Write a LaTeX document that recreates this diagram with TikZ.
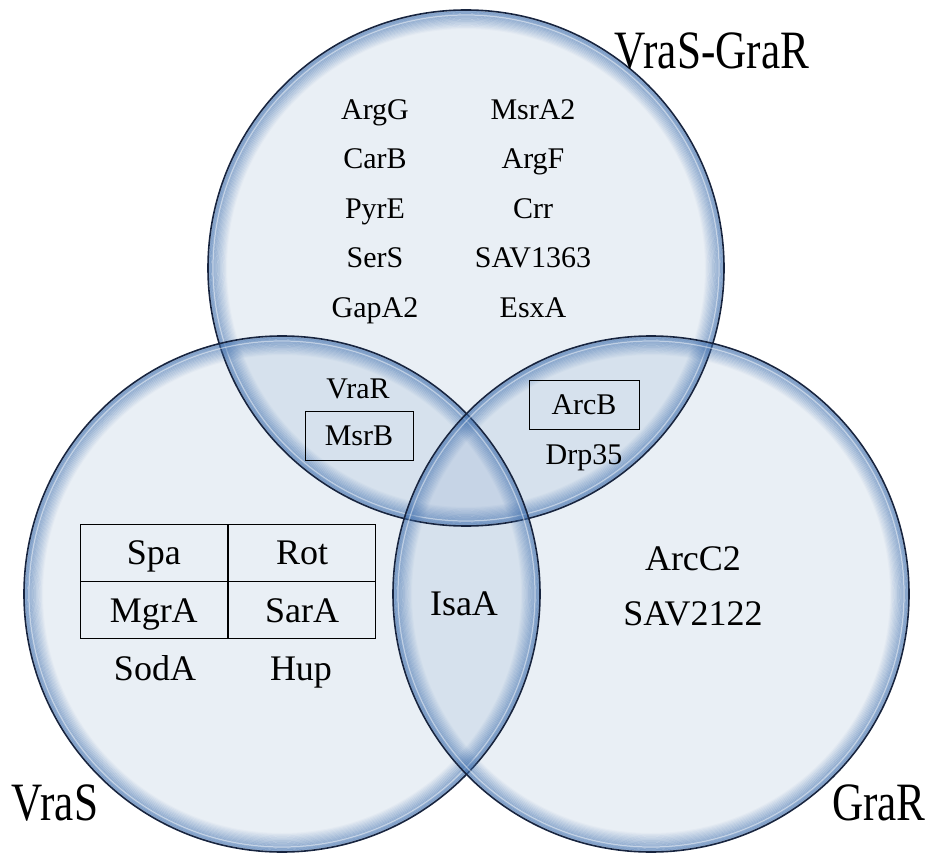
\documentclass[tikz,border=0pt]{standalone}
\usepackage{fontspec}
\setmainfont{Liberation Serif}
\newfontfamily\genefont{Liberation Serif}
\newfontfamily\setlabelfont[FakeStretch=0.8]{Liberation Serif}
\usetikzlibrary{positioning}
\definecolor{setfill}{HTML}{5B84B8}
\definecolor{setglow}{HTML}{3F6FAE}
\definecolor{setrim}{HTML}{17243F}
\tikzset{
  venn/.style={circle,minimum size=516pt,inner sep=0,fill=setfill,fill opacity=0.13},
  rim/.style={draw=setrim,line width=1.6pt},
  gene/.style={font=\genefont\fontsize{30}{30}\selectfont,inner sep=0,text height=20pt,text depth=0pt},
  biggene/.style={font=\genefont\fontsize{36}{36}\selectfont,inner sep=0,text height=24pt,text depth=0pt},
  genebox/.style={gene,draw,line width=0.9pt,minimum width=108pt,minimum height=49pt},
  cell/.style={biggene,draw,line width=0.9pt,minimum width=147.5pt,minimum height=57pt},
  setname/.style={font=\setlabelfont\fontsize{54}{54}\selectfont,inner sep=0,text height=36pt,text depth=0pt},
}
\begin{document}
\begin{tikzpicture}[x=1pt,y=-1pt]
  \useasboundingbox (0,0) rectangle (932,853);
  \fill[white] (0,0) rectangle (932,853);
  % the three sets
  \node[venn] (vrasgrar) at (466,268) {};
  \node[venn] (vras) at (282,594) {};
  \node[venn] (grar) at (651,594) {};
  % bevelled rims
  \foreach \s in {vrasgrar,vras,grar}{
    \foreach \k [evaluate=\k as \op using {0.55*(1-\k/15)}] in {0,...,14}
      \draw[setglow,line width=1.4pt,draw opacity=\op] (\s.center) circle ({256.5-\k*1.2});
    \draw[white,line width=1.2pt,draw opacity=0.45] (\s.center) circle (253);
    \draw[rim] (\s.center) circle (258);
  }
  % set names
  \node[setname] (vrasgrarname) at (712,51) {VraS-GraR};
  \node[setname] (vrasname) at (55,802) {VraS};
  \node[setname] (grarname) at (879,802) {GraR};
  % VraS-GraR only
  \node[gene] (argg) at (375,110) {ArgG};
  \node[gene] (msra2) at (533,110) {MsrA2};
  \node[gene] (carb) at (375,159) {CarB};
  \node[gene] (argf) at (533,159) {ArgF};
  \node[gene] (pyre) at (375,209) {PyrE};
  \node[gene] (crr) at (533,209) {Crr};
  \node[gene] (sers) at (375,258) {SerS};
  \node[gene] (sav1363) at (533,258) {SAV1363};
  \node[gene] (gapa2) at (375,307) {GapA2};
  \node[gene] (esxa) at (533,307) {EsxA};
  % overlaps
  \node[gene] (vrar) at (358,388) {VraR};
  \node[genebox] (msrb) at (359,435.5) {MsrB};
  \node[genebox,minimum width=110pt] (arcb) at (584,404.5) {ArcB};
  \node[gene] (drp35) at (584,454) {Drp35};
  \node[biggene] (isaa) at (464,603) {IsaA};
  % VraS only
  \node[cell] (spa) at (153.75,552.5) {Spa};
  \node[cell,right=0pt of spa] (rot) {Rot};
  \node[cell,below=0pt of spa] (mgra) {MgrA};
  \node[cell,right=0pt of mgra] (sara) {SarA};
  \node[biggene] (soda) at (155,668) {SodA};
  \node[biggene] (hup) at (301,668) {Hup};
  % GraR only
  \node[biggene] (arcc2) at (693,558) {ArcC2};
  \node[biggene] (sav2122) at (693,613) {SAV2122};
\end{tikzpicture}
\end{document}
